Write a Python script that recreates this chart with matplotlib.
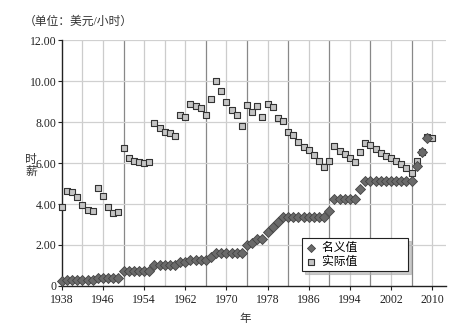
import matplotlib
matplotlib.use("Agg")
import matplotlib.pyplot as plt

# fuentes: serif para numeros, CJK para el texto chino
plt.rcParams['font.family'] = ['Liberation Serif', 'Noto Sans CJK SC']

# datos
anios_nominal = list(range(1938, 2010))
nominal = [0.25] + [0.30] * 6 + [0.40] * 5 + [0.75] * 6 + [1.00] * 5 + [1.15] * 2 \
    + [1.25] * 4 + [1.40] + [1.60] * 6 + [2.00, 2.10, 2.30, 2.30, 2.65, 2.90, 3.10] \
    + [3.35] * 9 + [3.65] + [4.25] * 5 + [4.75] + [5.15] * 10 + [5.85, 6.55, 7.25]

anios_real = list(range(1938, 2011))
real = [3.85, 4.66, 4.61, 4.37, 3.97, 3.73, 3.65, 4.81, 4.40, 3.86, 3.58, 3.62,
        6.76, 6.27, 6.09, 6.06, 6.01, 6.06,
        7.98, 7.74, 7.53, 7.49, 7.35, 8.36, 8.27, 8.89, 8.80, 8.68, 8.37,
        9.12, 10.02, 9.53, 8.98, 8.60, 8.36, 7.83,
        8.86, 8.49, 8.81, 8.27, 8.88, 8.73, 8.21, 8.05, 7.54, 7.36, 7.04, 6.78,
        6.65, 6.39, 6.11, 5.83, 6.09, 6.83, 6.60, 6.45, 6.26, 6.08, 6.57, 6.98,
        6.89, 6.70, 6.52, 6.36, 6.26, 6.12, 5.94, 5.75, 5.54, 6.12, 6.55, 7.30, 7.22]

etiquetas_x = [1938, 1946, 1954, 1962, 1970, 1978, 1986, 1994, 2002, 2010]
etiquetas_y = [0, 2, 4, 6, 8, 10, 12]
rejilla_oscura = [1950, 1966, 1974, 1982, 1990, 1998, 2006]

fig = plt.figure(figsize=(4.69, 3.26), dpi=100)
ax = fig.add_axes([0.132, 0.123, 0.819, 0.753])

# rejilla
for a in range(1942, 2011, 4):
    color = '#888888' if a in rejilla_oscura else '#cccccc'
    ax.axvline(a, color=color, lw=0.9, zorder=0)
for v in etiquetas_y[1:]:
    ax.axhline(v, color='#d0d0d0', lw=0.9, zorder=0)

# series
ax.scatter(anios_real, real, marker='s', s=24, facecolor='#c4c4c4',
           edgecolor='#333333', linewidth=0.8, zorder=3, clip_on=False,
           label='实际值')
ax.scatter(anios_nominal, nominal, marker='D', s=26, facecolor='#6a6a6a',
           edgecolor='#444444', linewidth=0.6, zorder=4, clip_on=False,
           label='名义值')

ax.set_xlim(1938, 2012.7)
ax.set_ylim(0, 12)
ax.set_xticks(etiquetas_x)
ax.set_xticklabels([str(a) for a in etiquetas_x], fontsize=8.5)
ax.set_yticks(etiquetas_y)
ax.set_yticklabels(['0'] + ['%.2f' % v for v in etiquetas_y[1:]], fontsize=8.5)
ax.tick_params(length=3, width=0.8, pad=1, colors='#222222')
ax.tick_params(axis='x', pad=3)

for lado in ['top', 'right']:
    ax.spines[lado].set_visible(False)
for lado in ['left', 'bottom']:
    ax.spines[lado].set_color('#222222')
    ax.spines[lado].set_linewidth(1.0)

# textos
fig.text(0.050, 0.925, '（单位：美元/小时）', fontsize=8.5, color='#333333')
fig.text(0.066, 0.49, '时\n薪', fontsize=8.5, color='#333333',
         ha='center', va='center', linespacing=1.0)
fig.text(0.523, 0.012, '年', fontsize=8.3, color='#333333', ha='center')

# leyenda (espacios al final para ensanchar el recuadro como en el original)
manejadores, textos = ax.get_legend_handles_labels()
textos = [t + '\u3000' * 4 for t in textos]
ley = ax.legend(manejadores[::-1], textos[::-1], loc='lower left',
                bbox_to_anchor=(0.625, 0.06), fontsize=8.5, frameon=True,
                fancybox=False, shadow={'color': '#aaaaaa', 'alpha': 0.6},
                edgecolor='#222222',
                handletextpad=0.4, borderpad=0.3, labelspacing=0.15,
                markerscale=0.8, handlelength=1.0, borderaxespad=0)
ley.get_frame().set_linewidth(0.8)

plt.savefig('out.png', dpi=100)
